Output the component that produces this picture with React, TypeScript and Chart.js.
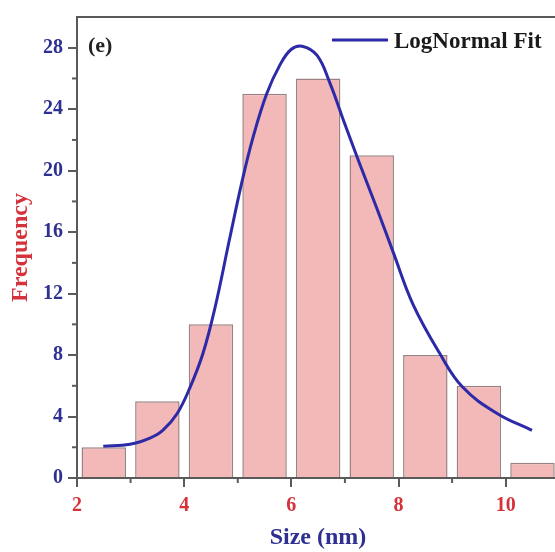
import React, { useEffect, useRef } from "react";
import { Chart, registerables } from "chart.js";

Chart.register(...registerables);

// Histogram bins (bin centres, nm) and counts
const binCenters = [2.5, 3.5, 4.5, 5.5, 6.5, 7.5, 8.5, 9.5, 10.5];
const binCounts = [2, 5, 10, 25, 26, 21, 8, 6, 1];

// LogNormal fit curve
const fitX = [2.49, 2.99, 3.36, 3.6, 3.87, 4.11, 4.35, 4.57, 4.85, 5.08, 5.28, 5.54, 5.79, 6.0, 6.2, 6.48, 6.72, 6.96, 7.28, 7.6, 7.9, 8.27, 8.77, 9.2, 9.84, 10.49];
const fitY = [2.07, 2.2, 2.6, 3.1, 4.2, 5.9, 8.1, 11.0, 15.6, 19.3, 22.1, 25.0, 26.9, 27.9, 28.1, 27.5, 25.7, 23.4, 20.4, 17.5, 14.7, 11.3, 8.1, 5.9, 4.2, 3.1];

const xMajorTicks = [2, 4, 6, 8, 10];
const xMinorTicks = [3, 5, 7, 9];
const yMajorTicks = [0, 4, 8, 12, 16, 20, 24, 28];
const yMinorTicks = [2, 6, 10, 14, 18, 22, 26];

const panelLabel = "(e)";
const legendLabel = "LogNormal Fit";
const xTitle = "Size (nm)";
const yTitle = "Frequency";

const FONT = "'Liberation Serif', 'Times New Roman', serif";
const LINE_COLOR = "#2d2aa8";
const RED = "#d4333b";
const NAVY = "#2e3192";
const AXIS = "#5a5a5a";

const decorPlugin = {
  id: "decor",
  afterDraw(chart: any) {
    const { ctx, chartArea, scales } = chart;
    const xs = scales.x;
    const ys = scales.y;
    ctx.save();
    // top frame line
    ctx.strokeStyle = AXIS;
    ctx.lineWidth = 2;
    ctx.beginPath();
    ctx.moveTo(chartArea.left - 1, chartArea.top);
    ctx.lineTo(chartArea.right, chartArea.top);
    ctx.stroke();
    // minor ticks
    ctx.lineWidth = 2;
    xMinorTicks.forEach((v) => {
      const px = xs.getPixelForValue(v);
      ctx.beginPath();
      ctx.moveTo(px, chartArea.bottom);
      ctx.lineTo(px, chartArea.bottom + 5);
      ctx.stroke();
    });
    yMinorTicks.forEach((v) => {
      const py = ys.getPixelForValue(v);
      ctx.beginPath();
      ctx.moveTo(chartArea.left - 5, py);
      ctx.lineTo(chartArea.left + 1, py);
      ctx.stroke();
    });
    // panel label
    ctx.fillStyle = "#222";
    ctx.font = `bold 22px ${FONT}`;
    ctx.textAlign = "left";
    ctx.textBaseline = "middle";
    ctx.fillText(panelLabel, 88, 46);
    // legend
    ctx.strokeStyle = LINE_COLOR;
    ctx.lineWidth = 3;
    ctx.beginPath();
    ctx.moveTo(332, 40);
    ctx.lineTo(388, 40);
    ctx.stroke();
    ctx.fillStyle = "#1a1a1a";
    ctx.font = `bold 23px ${FONT}`;
    ctx.fillText(legendLabel, 394, 42);
    // axis titles
    ctx.fillStyle = NAVY;
    ctx.font = `bold 24px ${FONT}`;
    ctx.textAlign = "center";
    ctx.fillText(xTitle, 318, 538);
    ctx.save();
    ctx.translate(21, (chartArea.top + chartArea.bottom) / 2);
    ctx.rotate(-Math.PI / 2);
    ctx.fillStyle = RED;
    ctx.font = `bold 24px ${FONT}`;
    ctx.fillText(yTitle, 0, 0);
    ctx.restore();
    ctx.restore();
  },
};

export default function App() {
  const canvasRef = useRef<HTMLCanvasElement | null>(null);

  useEffect(() => {
    document.body.style.margin = "0";
    const canvas = canvasRef.current;
    if (!canvas) return;
    const chart = new Chart(canvas, {
      type: "bar",
      data: {
        datasets: [
          {
            type: "line",
            label: legendLabel,
            data: fitX.map((x, i) => ({ x, y: fitY[i] })),
            borderColor: LINE_COLOR,
            borderWidth: 3,
            pointRadius: 0,
            fill: false,
            tension: 0.4,
            order: 1,
          } as any,
          {
            type: "bar",
            label: "Counts",
            data: binCenters.map((x, i) => ({ x, y: binCounts[i] })),
            backgroundColor: "#f3b8b8",
            borderColor: "#9a8282",
            borderWidth: 1.5,
            barPercentage: 0.83,
            categoryPercentage: 1,
            order: 2,
          } as any,
        ],
      },
      options: {
        animation: false,
        responsive: true,
        maintainAspectRatio: false,
        layout: { padding: { left: 0, right: 0, top: 14, bottom: 0 } },
        plugins: {
          legend: { display: false },
          tooltip: { enabled: false },
        },
        scales: {
          x: {
            type: "linear",
            min: 2,
            max: 10.92,
            offset: false,
            afterFit: (s: any) => {
              s.height = 74;
            },
            afterBuildTicks: (s: any) => {
              s.ticks = xMajorTicks.map((v) => ({ value: v }));
            },
            ticks: {
              autoSkip: false,
              maxRotation: 0,
              padding: 7,
              color: RED,
              font: { family: FONT, size: 20, weight: "bold" },
              callback: (v: any) => String(v),
            },
            grid: {
              offset: false,
              drawOnChartArea: false,
              drawTicks: true,
              tickLength: 9,
              color: AXIS,
              lineWidth: 2,
            },
            border: { display: true, color: AXIS, width: 2 },
          },
          y: {
            type: "linear",
            min: 0,
            max: 30,
            afterFit: (s: any) => {
              s.width = 77;
            },
            afterBuildTicks: (s: any) => {
              s.ticks = yMajorTicks.map((v) => ({ value: v }));
            },
            ticks: {
              autoSkip: false,
              padding: 5,
              color: NAVY,
              font: { family: FONT, size: 20, weight: "bold" },
              callback: (v: any) => String(v),
            },
            grid: {
              drawOnChartArea: false,
              drawTicks: true,
              tickLength: 9,
              color: AXIS,
              lineWidth: 2,
            },
            border: { display: true, color: AXIS, width: 2 },
          },
        },
      },
      plugins: [decorPlugin],
    });
    return () => chart.destroy();
  }, []);

  return (
    <div style={{ position: "absolute", left: 0, top: 0, width: 555, height: 552, background: "#fff" }}>
      <canvas ref={canvasRef} />
    </div>
  );
}
